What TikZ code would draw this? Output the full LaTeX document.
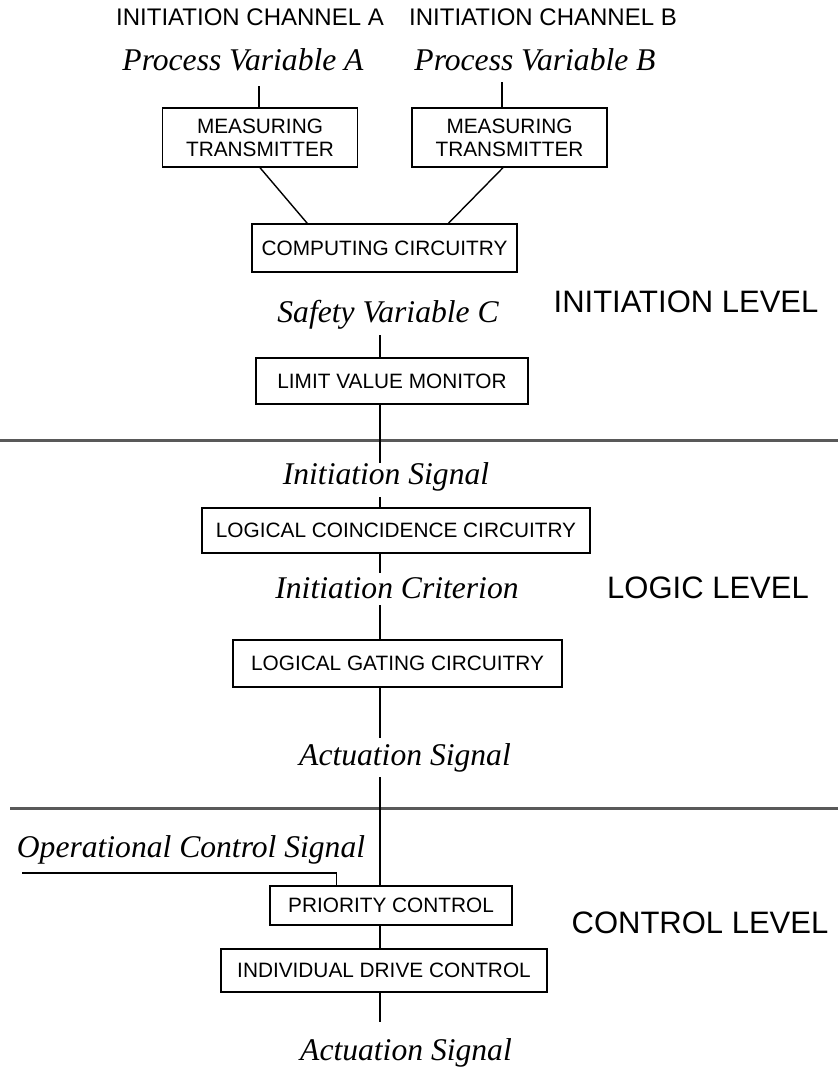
\documentclass[tikz,border=0pt]{standalone}
\usepackage{fontspec}
\setmainfont{Liberation Serif}
\setsansfont{Liberation Sans}
\usetikzlibrary{positioning,calc}
\tikzstyle{block}  =[draw, line width=0.7pt, inner sep=0pt, align=center,
                     font=\sffamily\fontsize{10.4}{11.5}\selectfont]
\tikzstyle{signal} =[inner sep=0pt, font=\itshape\fontsize{15.8}{18}\selectfont]
\tikzstyle{level}  =[inner sep=0pt, font=\sffamily\fontsize{15.5}{18}\selectfont]
\tikzstyle{channel}=[inner sep=0pt, font=\sffamily\fontsize{12}{14}\selectfont]
\tikzstyle{wire}   =[line width=0.7pt]
\tikzstyle{divider}=[line width=1.5pt, draw=black!65]

\begin{document}
\begin{tikzpicture}[x=0.5pt, y=-0.5pt]
    \useasboundingbox (0,0) rectangle (838,1083);
    \coordinate (spine) at (380,0);
    % initiation level
    \node[channel] (chA) at (250,17) {INITIATION CHANNEL A};
    \node[channel] (chB) at (543,17) {INITIATION CHANNEL B};
    \node[signal] (pvA) at (243,60) {Process Variable A};
    \node[signal] (pvB) at (535,60) {Process Variable B};
    \coordinate (pvAend) at (259,86);
    \coordinate (pvBend) at (502,82);
    \node[block, minimum width=97.5pt, minimum height=29.5pt] (mtA) at (260,137.5) {MEASURING\\TRANSMITTER};
    \node[block, minimum width=97.5pt, minimum height=29.5pt] (mtB) at (509.5,137.5) {MEASURING\\TRANSMITTER};
    \node[block, minimum width=132.5pt, minimum height=24pt] (comp) at (384.5,248) {COMPUTING CIRCUITRY};
    \node[signal] (sfC) at (388,315) {Safety Variable C};
    \coordinate (sfCend) at (380,335);
    \node[block, minimum width=136pt, minimum height=23pt] (lvm) at (392,381) {LIMIT VALUE MONITOR};
    \node[level] (lvInit) at (686,302) {INITIATION LEVEL};
    \draw[wire] (pvAend) -- (pvAend |- mtA.north);
    \draw[wire] (pvBend) -- (pvBend |- mtB.north);
    \draw[wire] (mtA.south) -- ($(comp.north west)!0.21!(comp.north east)$);
    \draw[wire] ([xshift=-3.25pt]mtB.south) -- ($(comp.north west)!0.74!(comp.north east)$);
    \draw[wire] (sfCend) -- (lvm.north -| spine);
    \draw[divider] (0,440) -- (838,440);
    % logic level
    \coordinate (lvmend) at (380,463);
    \node[signal] (inSig) at (386,477) {Initiation Signal};
    \coordinate (inSigend) at (380,497);
    \node[block, minimum width=194pt, minimum height=22.5pt] (lcc) at (396,530.5) {LOGICAL COINCIDENCE CIRCUITRY};
    \coordinate (lccend) at (380,573);
    \node[signal] (inCrit) at (397,588) {Initiation Criterion};
    \coordinate (inCritend) at (380,605);
    \node[block, minimum width=164.5pt, minimum height=23.5pt] (lgc) at (397.5,663.5) {LOGICAL GATING CIRCUITRY};
    \coordinate (lgcend) at (380,738);
    \node[signal] (actA) at (405,758) {Actuation Signal};
    \node[level] (lvLogic) at (708,588) {LOGIC LEVEL};
    \draw[wire] (lvm.south -| spine) -- (lvmend);
    \draw[wire] (inSigend) -- (lcc.north -| spine);
    \draw[wire] (lcc.south -| spine) -- (lccend);
    \draw[wire] (inCritend) -- (lgc.north -| spine);
    \draw[wire] (lgc.south -| spine) -- (lgcend);
    \draw[divider] (10,808) -- (838,808);
    % control level
    \coordinate (actAend) at (380,777);
    \node[signal] (opSig) at (191,850) {Operational Control Signal};
    \coordinate (opSigend) at (22,873);
    \node[block, minimum width=121pt, minimum height=19.5pt] (pc) at (391,905.5) {PRIORITY CONTROL};
    \node[block, minimum width=163pt, minimum height=21.5pt] (idc) at (384,970.5) {INDIVIDUAL DRIVE CONTROL};
    \coordinate (idcend) at (380,1022);
    \node[signal] (actB) at (406,1053) {Actuation Signal};
    \node[level] (lvCtrl) at (700,923) {CONTROL LEVEL};
    \draw[wire] (actAend) -- (pc.north -| spine);
    \draw[wire] (opSigend) -| ($(pc.north west)!0.277!(pc.north east)$);
    \draw[wire] (pc.south -| spine) -- (idc.north -| spine);
    \draw[wire] (idc.south -| spine) -- (idcend);
\end{tikzpicture}
\end{document}
